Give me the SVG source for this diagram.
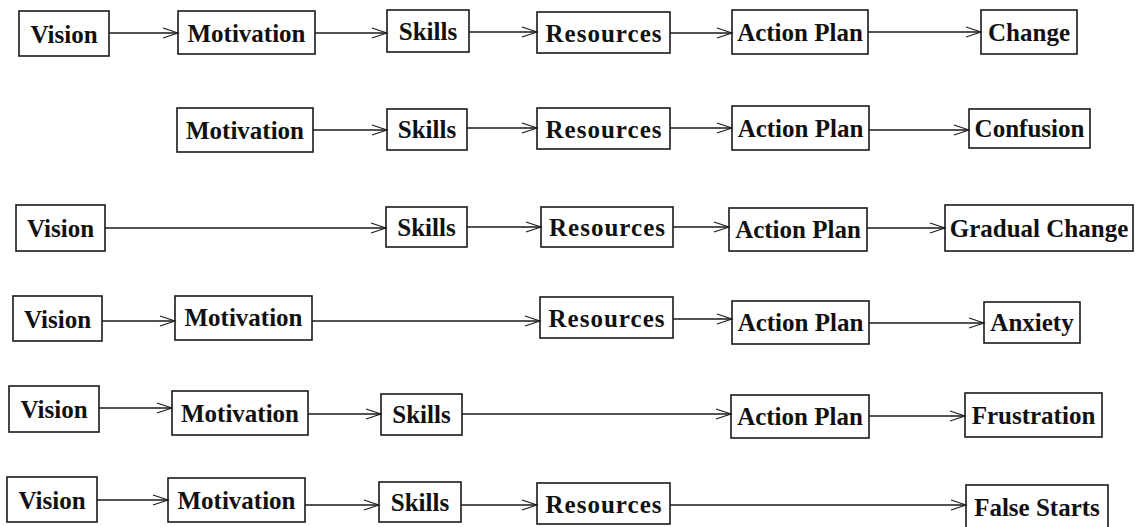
<svg xmlns="http://www.w3.org/2000/svg" width="1135" height="527" viewBox="0 0 1135 527">
  <style>
    .box { fill: #ffffff; stroke: #1a1a1a; stroke-width: 1.6; }
    .lbl { font-family: "Liberation Serif", "Times New Roman", serif; font-weight: bold; font-size: 25px; fill: #111111; text-anchor: middle; }
    .link { stroke: #1a1a1a; stroke-width: 1.5; fill: none; marker-end: url(#open); }
  </style>
  <defs>
    <marker id="open" markerUnits="userSpaceOnUse" markerWidth="18" markerHeight="14" refX="15" refY="6" orient="auto" overflow="visible">
      <path d="M0,1 L15,6 L0,11" fill="none" stroke="#1a1a1a" stroke-width="1.1"/>
    </marker>
  </defs>
  <rect width="1135" height="527" fill="#ffffff"/>

  <!-- Row 1 -->
  <g id="r1-vision"><rect class="box" x="19" y="11" width="90" height="45"/><text class="lbl" x="64" y="43">Vision</text></g>
  <g id="r1-motivation"><rect class="box" x="178" y="11" width="137" height="43"/><text class="lbl" x="246.5" y="42">Motivation</text></g>
  <g id="r1-skills"><rect class="box" x="387" y="10" width="82" height="42"/><text class="lbl" x="428" y="40">Skills</text></g>
  <g id="r1-resources"><rect class="box" x="537" y="12" width="133" height="41"/><text class="lbl" x="603.5" y="42" textLength="116" lengthAdjust="spacing">Resources</text></g>
  <g id="r1-action"><rect class="box" x="732" y="10" width="136" height="44"/><text class="lbl" x="800" y="41">Action Plan</text></g>
  <g id="r1-change"><rect class="box" x="981" y="10" width="96" height="44"/><text class="lbl" x="1029" y="41">Change</text></g>

  <!-- Row 2 -->
  <g id="r2-motivation"><rect class="box" x="177" y="108" width="136" height="44"/><text class="lbl" x="245" y="139">Motivation</text></g>
  <g id="r2-skills"><rect class="box" x="387" y="109" width="80" height="41"/><text class="lbl" x="427" y="138">Skills</text></g>
  <g id="r2-resources"><rect class="box" x="537" y="108" width="133" height="41"/><text class="lbl" x="603.5" y="138" textLength="116" lengthAdjust="spacing">Resources</text></g>
  <g id="r2-action"><rect class="box" x="732" y="106" width="137" height="44"/><text class="lbl" x="800.5" y="137">Action Plan</text></g>
  <g id="r2-confusion"><rect class="box" x="969" y="109" width="121" height="39"/><text class="lbl" x="1029.5" y="137">Confusion</text></g>

  <!-- Row 3 -->
  <g id="r3-vision"><rect class="box" x="16" y="205" width="89" height="46"/><text class="lbl" x="60.5" y="237">Vision</text></g>
  <g id="r3-skills"><rect class="box" x="386" y="207" width="81" height="40"/><text class="lbl" x="426.5" y="236">Skills</text></g>
  <g id="r3-resources"><rect class="box" x="541" y="207" width="132" height="40"/><text class="lbl" x="607" y="236" textLength="116" lengthAdjust="spacing">Resources</text></g>
  <g id="r3-action"><rect class="box" x="729" y="208" width="138" height="43"/><text class="lbl" x="798" y="238">Action Plan</text></g>
  <g id="r3-gradual"><rect class="box" x="945" y="205" width="188" height="46"/><text class="lbl" x="1039" y="237">Gradual Change</text></g>

  <!-- Row 4 -->
  <g id="r4-vision"><rect class="box" x="13" y="296" width="89" height="45"/><text class="lbl" x="57.5" y="328">Vision</text></g>
  <g id="r4-motivation"><rect class="box" x="175" y="296" width="137" height="44"/><text class="lbl" x="243.5" y="326">Motivation</text></g>
  <g id="r4-resources"><rect class="box" x="540" y="297" width="133" height="41"/><text class="lbl" x="606.5" y="327" textLength="116" lengthAdjust="spacing">Resources</text></g>
  <g id="r4-action"><rect class="box" x="732" y="301" width="137" height="43"/><text class="lbl" x="800.5" y="331">Action Plan</text></g>
  <g id="r4-anxiety"><rect class="box" x="984" y="302" width="96" height="41"/><text class="lbl" x="1032" y="331">Anxiety</text></g>

  <!-- Row 5 -->
  <g id="r5-vision"><rect class="box" x="9" y="386" width="90" height="46"/><text class="lbl" x="54" y="418">Vision</text></g>
  <g id="r5-motivation"><rect class="box" x="172" y="391" width="136" height="44"/><text class="lbl" x="240" y="422">Motivation</text></g>
  <g id="r5-skills"><rect class="box" x="381" y="394" width="81" height="41"/><text class="lbl" x="421.5" y="423">Skills</text></g>
  <g id="r5-action"><rect class="box" x="731" y="395" width="138" height="43"/><text class="lbl" x="800" y="425">Action Plan</text></g>
  <g id="r5-frustration"><rect class="box" x="965" y="393" width="137" height="44"/><text class="lbl" x="1033.5" y="424">Frustration</text></g>

  <!-- Row 6 -->
  <g id="r6-vision"><rect class="box" x="7" y="477" width="90" height="45"/><text class="lbl" x="52" y="509">Vision</text></g>
  <g id="r6-motivation"><rect class="box" x="168" y="478" width="137" height="44"/><text class="lbl" x="236.5" y="509">Motivation</text></g>
  <g id="r6-skills"><rect class="box" x="379" y="482" width="82" height="40"/><text class="lbl" x="420" y="511">Skills</text></g>
  <g id="r6-resources"><rect class="box" x="537" y="483" width="133" height="41"/><text class="lbl" x="603.5" y="513" textLength="116" lengthAdjust="spacing">Resources</text></g>
  <g id="r6-false"><rect class="box" x="966" y="485" width="142" height="46"/><text class="lbl" x="1037" y="516">False Starts</text></g>

  <!-- Connectors -->
  <g id="connectors">
    <line class="link" x1="109" y1="33" x2="178" y2="33"/>
    <line class="link" x1="315" y1="33" x2="387" y2="33"/>
    <line class="link" x1="469" y1="32" x2="537" y2="32"/>
    <line class="link" x1="670" y1="33" x2="732" y2="33"/>
    <line class="link" x1="868" y1="32" x2="981" y2="32"/>

    <line class="link" x1="313" y1="130" x2="387" y2="130"/>
    <line class="link" x1="467" y1="128" x2="537" y2="128"/>
    <line class="link" x1="670" y1="128" x2="732" y2="128"/>
    <line class="link" x1="869" y1="130" x2="969" y2="130"/>

    <line class="link" x1="105" y1="228" x2="386" y2="228"/>
    <line class="link" x1="467" y1="227" x2="541" y2="227"/>
    <line class="link" x1="673" y1="227" x2="729" y2="227"/>
    <line class="link" x1="867" y1="228" x2="945" y2="228"/>

    <line class="link" x1="102" y1="321" x2="175" y2="321"/>
    <line class="link" x1="312" y1="321" x2="540" y2="321"/>
    <line class="link" x1="673" y1="319" x2="732" y2="319"/>
    <line class="link" x1="869" y1="323" x2="984" y2="323"/>

    <line class="link" x1="99" y1="408" x2="172" y2="408"/>
    <line class="link" x1="308" y1="414" x2="381" y2="414"/>
    <line class="link" x1="462" y1="414" x2="731" y2="414"/>
    <line class="link" x1="869" y1="416" x2="965" y2="416"/>

    <line class="link" x1="97" y1="500" x2="168" y2="500"/>
    <line class="link" x1="305" y1="505" x2="379" y2="505"/>
    <line class="link" x1="461" y1="505" x2="537" y2="505"/>
    <line class="link" x1="670" y1="505" x2="966" y2="505"/>
  </g>
</svg>
